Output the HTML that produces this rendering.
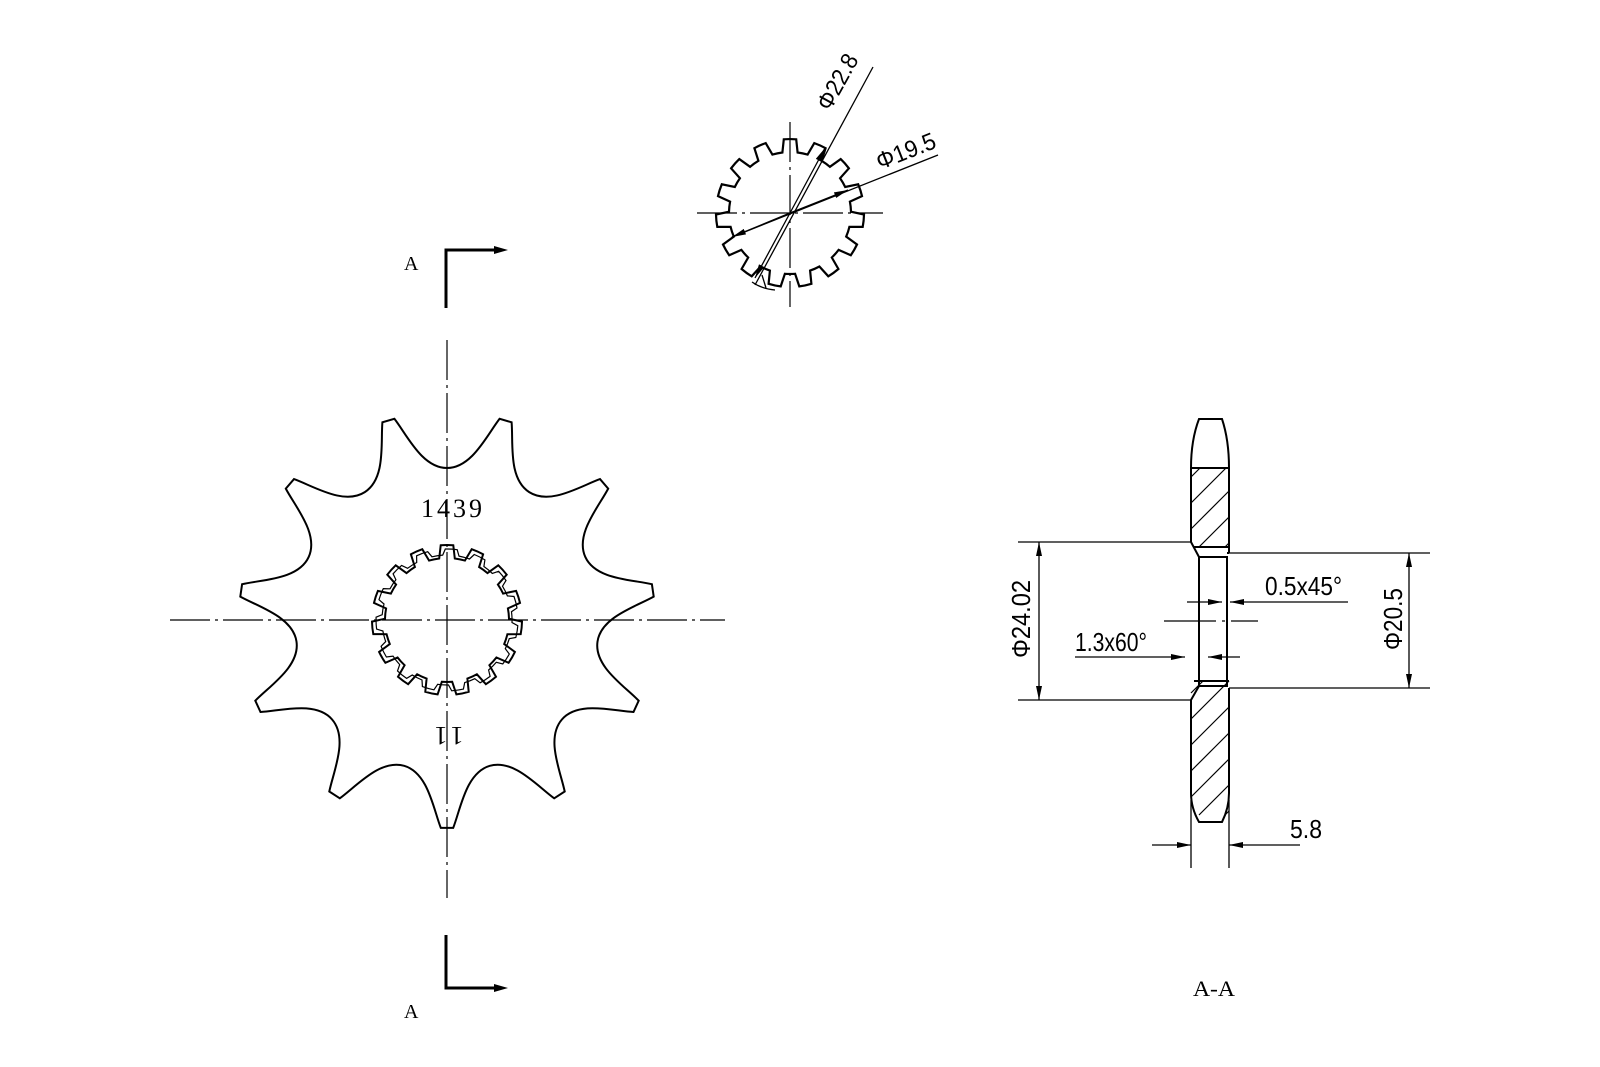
<!DOCTYPE html>
<html><head><meta charset="utf-8"><style>html,body{margin:0;padding:0;background:#fff}svg{display:block}</style></head>
<body>
<svg id="s" width="1600" height="1067" viewBox="0 0 1600 1067" xmlns="http://www.w3.org/2000/svg" font-family="'Liberation Sans', sans-serif">
<defs>
<marker id="ar" viewBox="0 0 14 6" refX="14" refY="3" markerWidth="14" markerHeight="6" markerUnits="userSpaceOnUse" orient="auto"><path d="M0,0 L14,3 L0,6 Z" fill="#000"/></marker>
</defs>
<g fill="none" stroke="#000">
<g stroke-width="1.2" stroke-dasharray="40,5,3,5">
<line x1="170" y1="620" x2="725" y2="620"/>
<line x1="447" y1="340" x2="447" y2="898"/>
<line x1="697" y1="213" x2="883" y2="213"/>
<line x1="790" y1="122" x2="790" y2="307"/>
<line x1="1164" y1="621" x2="1258" y2="621" stroke-dasharray="52,6,3,6"/>
</g>
<path id="sprocket" stroke-width="2"/>
<path id="spl1" stroke-width="2"/>
<path id="spl1b" stroke-width="1.2"/>
<path id="spl2" stroke-width="2.2"/>
<path d="M446,308 V250 H500" stroke-width="3"/>
<path d="M446,935 V988 H500" stroke-width="3"/>
<path d="M494,246 L508,250 L494,254Z M494,984 L508,988 L494,992Z" fill="#000" stroke="none"/>
<g stroke-width="1.3">
<line x1="755" y1="285" x2="873" y2="67"/>
<line x1="790" y1="213" x2="825" y2="148" marker-end="url(#ar)"/>
<line x1="790" y1="213" x2="755" y2="278" marker-end="url(#ar)"/>
<path d="M752,282 Q762,289 775,290"/>
<line x1="762" y1="275" x2="766" y2="288"/>
<line x1="732" y1="237" x2="938" y2="155"/>
<line x1="790" y1="213" x2="848" y2="190" marker-end="url(#ar)"/>
<line x1="790" y1="213" x2="732" y2="237" marker-end="url(#ar)"/>
</g>
<g stroke-width="2">
<path d="M1191,542 V468 Q1191,440 1199,419 H1222 Q1229,440 1229,468 V553"/>
<path d="M1191,700 V793 Q1191,808 1199,822 H1222 Q1229,808 1229,793 V688"/>
<line x1="1191" y1="468" x2="1229" y2="468"/>
<path d="M1191,542 L1199,557 H1227 V686 H1199 L1191,700"/>
<line x1="1194" y1="547" x2="1229" y2="547"/>
<line x1="1194" y1="681" x2="1229" y2="681"/>
<line x1="1199" y1="557" x2="1199" y2="686"/>
<line x1="1227" y1="553" x2="1229" y2="553"/>
</g>
<g stroke-width="1.2" id="hatch"></g>
<g stroke-width="1.3">
<line x1="1191" y1="800" x2="1191" y2="868"/>
<line x1="1229" y1="800" x2="1229" y2="868"/>
<line x1="1152" y1="845" x2="1191" y2="845" marker-end="url(#ar)"/>
<line x1="1300" y1="845" x2="1229" y2="845" marker-end="url(#ar)"/>
<line x1="1018" y1="542" x2="1191" y2="542"/>
<line x1="1018" y1="700" x2="1191" y2="700"/>
<line x1="1039" y1="620" x2="1039" y2="542" marker-end="url(#ar)"/>
<line x1="1039" y1="620" x2="1039" y2="700" marker-end="url(#ar)"/>
<line x1="1229" y1="553" x2="1430" y2="553"/>
<line x1="1229" y1="688" x2="1430" y2="688"/>
<line x1="1409" y1="620" x2="1409" y2="553" marker-end="url(#ar)"/>
<line x1="1409" y1="620" x2="1409" y2="688" marker-end="url(#ar)"/>
<line x1="1187" y1="602" x2="1222" y2="602" marker-end="url(#ar)"/>
<line x1="1348" y1="602" x2="1230" y2="602" marker-end="url(#ar)"/>
<line x1="1075" y1="657" x2="1185" y2="657" marker-end="url(#ar)"/>
<line x1="1240" y1="657" x2="1208" y2="657" marker-end="url(#ar)"/>
</g>
</g>
<g fill="#000" font-size="24">
<text x="404" y="270" font-family="'Liberation Serif', serif" font-size="20">A</text>
<text x="404" y="1018" font-family="'Liberation Serif', serif" font-size="20">A</text>
<text x="421" y="517" font-family="'Liberation Serif', serif" font-size="26" letter-spacing="3">1439</text>
<text transform="translate(447,736) rotate(180)" text-anchor="middle" font-family="'Liberation Serif', serif" font-size="26" y="9" letter-spacing="4">11</text>
<text transform="translate(830,112) rotate(-61)" textLength="60" lengthAdjust="spacingAndGlyphs">Φ22.8</text>
<text transform="translate(880,170) rotate(-21.5)" textLength="62" lengthAdjust="spacingAndGlyphs">Φ19.5</text>
<text x="1265" y="595" font-size="26" textLength="77" lengthAdjust="spacingAndGlyphs">0.5x45°</text>
<text x="1075" y="651" font-size="26" textLength="72" lengthAdjust="spacingAndGlyphs">1.3x60°</text>
<text transform="translate(1030,658) rotate(-90)" font-size="26" textLength="78" lengthAdjust="spacingAndGlyphs">Φ24.02</text>
<text transform="translate(1402,650) rotate(-90)" font-size="26" textLength="62" lengthAdjust="spacingAndGlyphs">Φ20.5</text>
<text x="1290" y="838" font-size="26" textLength="32" lengthAdjust="spacingAndGlyphs">5.8</text>
<text x="1193" y="996" font-family="'Liberation Serif', serif" font-size="22" textLength="42" lengthAdjust="spacingAndGlyphs">A-A</text>
</g>
</svg>
<script>
(function(){
function P(cx,cy,r,a){return [cx+r*Math.cos(a),cy+r*Math.sin(a)];}
function f(p){return p[0].toFixed(1)+','+p[1].toFixed(1);}
var cx=447,cy=620,n=11,p=2*Math.PI/n,d='';
function L(g,u,v){var ux=Math.cos(g),uy=Math.sin(g);return [cx+ux*u-uy*v,cy+uy*u+ux*v];}
var hw=0.03;
for(var i=0;i<n;i++){
 var t=Math.PI/2+i*p; var g=t+p/2;
 var a=P(cx,cy,208,t-hw), b=P(cx,cy,208,t+hw);
 var tu=208*Math.cos(p/2-hw), tv=208*Math.sin(p/2-hw);
 if(i==0)d+='M'+f(a)+' ';
 d+='L'+f(b)+' C'+f(L(g,185,-40))+' '+f(L(g,152,-25))+' '+f(L(g,152,0))+' C'+f(L(g,152,25))+' '+f(L(g,185,40))+' '+f(L(g,tu,tv))+' ';
}
document.getElementById('sprocket').setAttribute('d',d+'Z');
function spline(cx,cy,ro,ri,n,rot){
 var p=2*Math.PI/n,d='';
 for(var i=0;i<n;i++){var a=rot+i*p;
  var q=[P(cx,cy,ri,a-0.3*p),P(cx,cy,ro,a-0.2*p),P(cx,cy,ro,a+0.2*p),P(cx,cy,ri,a+0.3*p)];
  d+=(i==0?'M':'L')+f(q[0])+' L'+f(q[1])+' A'+ro+','+ro+' 0 0 1 '+f(q[2])+' L'+f(q[3])+' A'+ri+','+ri+' 0 0 1 '+f(P(cx,cy,ri,a+p-0.3*p))+' ';}
 return d+'Z';}
document.getElementById('spl1').setAttribute('d',spline(447,620,75,62,15,-Math.PI/2));
document.getElementById('spl1b').setAttribute('d',spline(447,620,71,65,15,-Math.PI/2+0.06));
document.getElementById('spl2').setAttribute('d',spline(790,213,74,61,15,-Math.PI/2));
var h=document.getElementById('hatch'),s='';
function hatch(y0,y1){for(var k=-60;k<200;k+=26){var xa=1191,ya=y1-k,xb=1229,yb=ya-38;
 var x1=xa,yy1=ya,x2=xb,yy2=yb;
 if(yy1>y1){x1+= (yy1-y1);yy1=y1;} if(yy2<y0){x2-=(y0-yy2);yy2=y0;}
 if(x1<x2&&yy1>=y0&&yy2<=y1)s+='<line x1="'+x1+'" y1="'+yy1+'" x2="'+x2+'" y2="'+yy2+'"/>';}}
hatch(468,547);hatch(681,815);
h.innerHTML=s;
})();
</script>
</body></html>
